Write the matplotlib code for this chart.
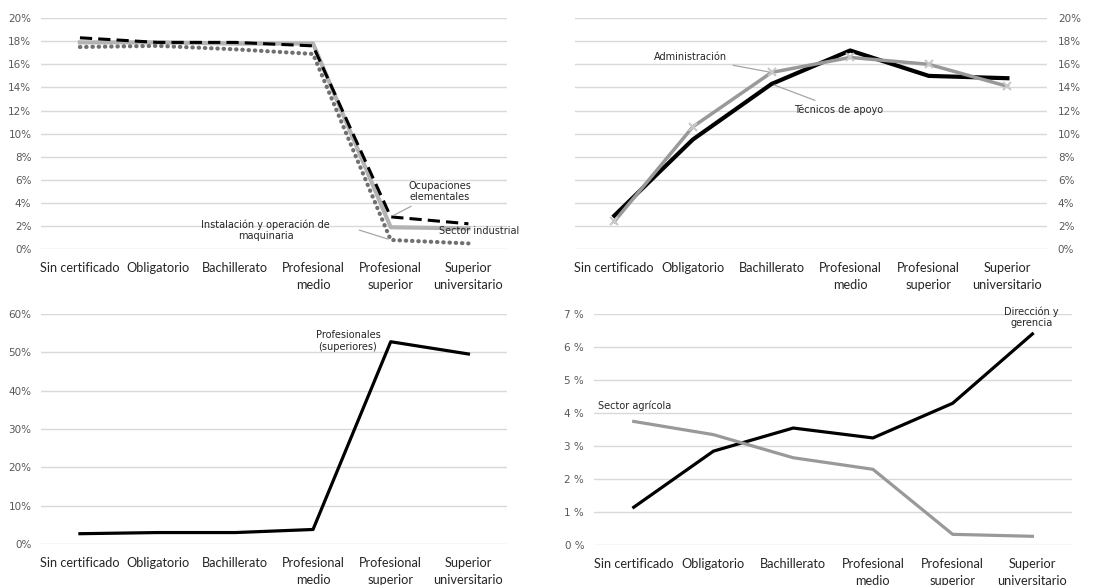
import matplotlib
matplotlib.use("Agg")
import matplotlib.pyplot as plt
from matplotlib.ticker import FuncFormatter

niveles = ["Sin certificado", "Obligatorio", "Bachillerato", "Profesional\nmedio",
           "Profesional\nsuperior", "Superior\nuniversitario"]

# panel 1
ocup_elementales = [18.3, 17.9, 17.9, 17.6, 2.8, 2.2]
sector_industrial = [17.9, 17.9, 17.8, 17.8, 1.9, 1.8]
instalacion_maq = [17.5, 17.6, 17.3, 16.9, 0.8, 0.5]
# panel 2
tecnicos_apoyo = [2.9, 9.5, 14.3, 17.2, 15.0, 14.8]
administracion = [2.4, 10.6, 15.3, 16.6, 16.0, 14.1]
# panel 3
profesionales_sup = [2.7, 3.0, 3.0, 3.8, 52.8, 49.6]
# panel 4
direccion_gerencia = [1.15, 2.85, 3.55, 3.25, 4.3, 6.4]
sector_agricola = [3.75, 3.35, 2.65, 2.3, 0.33, 0.27]

XFONT = ["Lato", "DejaVu Sans"]
LFONT = ["DejaVu Sans"]
GRID = "#d9d9d9"
TICKC = "#595959"


def base(ax, ymax, step, fmt, right=False):
    x = range(len(niveles))
    ax.set_xlim(-0.5, len(niveles) - 0.5)
    ax.set_ylim(0, ymax)
    ax.set_yticks([i * step for i in range(int(round(ymax / step)) + 1)])
    ax.yaxis.set_major_formatter(FuncFormatter(lambda v, p: fmt % v))
    ax.set_xticks(list(x))
    ax.set_xticklabels(niveles, family=XFONT, fontsize=9.2, color="#262626", linespacing=1.5)
    for lab in ax.get_yticklabels():
        lab.set_family(LFONT)
    ax.tick_params(axis="y", length=0, labelsize=7.5, labelcolor=TICKC, pad=7)
    ax.tick_params(axis="x", length=0, pad=9)
    if right:
        ax.yaxis.tick_right()
        ax.tick_params(axis="y", length=0, pad=8)
    for s in ax.spines.values():
        s.set_visible(False)
    ax.grid(axis="y", color=GRID, lw=1)
    ax.set_axisbelow(True)


fig = plt.figure(figsize=(11.1, 5.85), dpi=100)

ax1 = fig.add_axes([0.037, 0.574, 0.420, 0.395])
ax2 = fig.add_axes([0.518, 0.574, 0.425, 0.395])
ax3 = fig.add_axes([0.037, 0.070, 0.420, 0.393])
ax4 = fig.add_axes([0.535, 0.068, 0.431, 0.395])

x = list(range(len(niveles)))
arrow = dict(arrowstyle="-", color="#a6a6a6", lw=0.9)
tk = dict(family=LFONT, fontsize=7, color="#262626")

# ---- panel 1
base(ax1, 20, 2, "%d%%")
ax1.plot(x, sector_industrial, color="#b3b3b3", lw=3)
ax1.plot(x, ocup_elementales, color="black", lw=2.2, ls=(0, (4, 2)))
ax1.plot(x, instalacion_maq, color="#707070", lw=3, ls=(0, (0.1, 1.4)), dash_capstyle="round")
ax1.annotate("Ocupaciones\nelementales", xy=(4, 2.8), xytext=(4.63, 5.0), ha="center", va="center",
             arrowprops=arrow, **tk)
ax1.text(4.62, 1.6, "Sector industrial", ha="left", va="center", **tk)
ax1.annotate("Instalación y operación de\nmaquinaria", xy=(4, 0.8), xytext=(2.39, 1.65),
             ha="center", va="center", **tk)
ax1.annotate("", xy=(4, 0.8), xytext=(3.56, 1.73), arrowprops=arrow)

# ---- panel 2
base(ax2, 20, 2, "%d%%", right=True)
ax2.plot(x, tecnicos_apoyo, color="black", lw=3)
ax2.plot(x, administracion, color="#999999", lw=2.5, marker="x", ms=6, mec="#c8c8c8", mew=1.5)
ax2.annotate("Administración", xy=(2, 15.3), xytext=(1.44, 16.6), ha="right", va="center",
             arrowprops=arrow, **tk)
ax2.annotate("Técnicos de apoyo", xy=(2, 14.3), xytext=(2.29, 12.1), ha="left", va="center",
             arrowprops=arrow, **tk)

# ---- panel 3
base(ax3, 60, 10, "%d%%")
ax3.plot(x, profesionales_sup, color="black", lw=2.3)
ax3.text(3.45, 53.0, "Profesionales\n(superiores)", ha="center", va="center", **tk)

# ---- panel 4
base(ax4, 7, 1, "%d %%")
ax4.plot(x, direccion_gerencia, color="black", lw=2.3)
ax4.plot(x, sector_agricola, color="#999999", lw=2.3)
ax4.text(4.99, 6.9, "Dirección y\ngerencia", ha="center", va="center", **tk)
ax4.text(-0.45, 4.24, "Sector agrícola", ha="left", va="center", **tk)

fig.savefig("out.png", dpi=100)
